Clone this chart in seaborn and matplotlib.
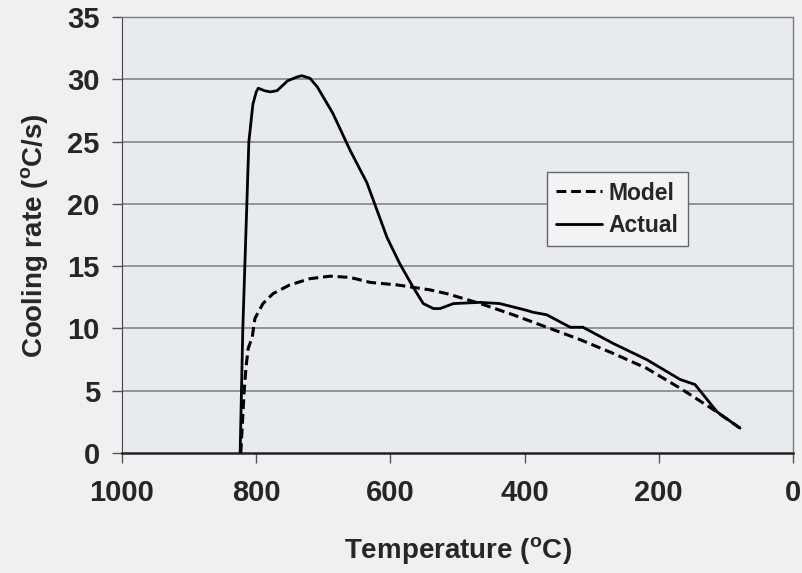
import pandas as pd
import matplotlib
matplotlib.use("Agg")
import matplotlib.pyplot as plt
import seaborn as sns

# Values (temperature in C, cooling rate in C/s)
actual_temp = [824, 822, 820, 817, 814, 811, 805, 800, 797, 788, 779, 769, 753, 739, 732,
               720, 709, 686, 660, 635, 605, 586, 566, 551, 536, 526, 506, 466, 437, 400,
               387, 367, 332, 313, 268, 218, 168, 146, 131, 113, 79]
actual_rate = [0, 5, 10, 15, 20, 25, 28, 29.0, 29.3, 29.1, 29.0, 29.1, 29.9, 30.2, 30.3,
               30.1, 29.4, 27.3, 24.3, 21.7, 17.3, 15.2, 13.3, 12.0, 11.6, 11.6, 12.0, 12.1, 12.0, 11.5,
               11.3, 11.1, 10.1, 10.1, 8.8, 7.5, 5.9, 5.5, 4.5, 3.3, 2.0]

model_temp = [823, 820, 818, 815, 812, 806, 802, 790, 775, 750, 720, 690, 660, 630, 590,
              541, 516, 466, 417, 367, 317, 268, 218, 168, 119, 79]
model_rate = [0, 3, 5, 7, 8.4, 9.3, 10.8, 12.0, 12.8, 13.5, 14.0, 14.2, 14.1, 13.7, 13.5,
              13.1, 12.8, 12.0, 11.1, 10.1, 9.1, 8.0, 6.8, 5.2, 3.5, 2.0]

x_ticks = [1000, 800, 600, 400, 200, 0]
y_ticks = [0, 5, 10, 15, 20, 25, 30, 35]

sns.set_style("white")
plt.rcParams["font.family"] = ["Liberation Sans", "DejaVu Sans"]
plt.rcParams["font.weight"] = "bold"
plt.rcParams["mathtext.fontset"] = "custom"
plt.rcParams["mathtext.rm"] = "Liberation Sans:bold"

df_model = pd.DataFrame({"temp": model_temp, "rate": model_rate})
df_actual = pd.DataFrame({"temp": actual_temp, "rate": actual_rate})

fig = plt.figure(figsize=(8.03, 5.73), dpi=100, facecolor="#eef0f2")
ax = fig.add_axes([0.152, 0.2094, 0.8355, 0.7606])
ax.set_facecolor("#e7eaee")

# grid lines behind the data
for yv in y_ticks[1:]:
    ax.axhline(yv, color="#7d7d7d", lw=1.1, zorder=1)

sns.lineplot(data=df_model, x="temp", y="rate", ax=ax, color="black", lw=2.2,
             sort=False, estimator=None, label="Model", zorder=3)
ax.lines[-1].set_dashes((3.2, 1.6))
sns.lineplot(data=df_actual, x="temp", y="rate", ax=ax, color="black", lw=2.0,
             sort=False, estimator=None, label="Actual", zorder=4)

ax.set_xlim(1000, 0)
ax.set_ylim(0, 35)
ax.set_xticks(x_ticks)
ax.set_yticks(y_ticks)
ax.tick_params(axis="both", labelsize=21, direction="out", length=7, width=1,
               color="#555555")
ax.tick_params(axis="x", pad=12, bottom=True)
ax.tick_params(axis="y", pad=9, left=True)
for lab in ax.get_xticklabels() + ax.get_yticklabels():
    lab.set_fontweight("bold")

ax.set_xlabel(r"Temperature ($^{\rm o}$C)", fontsize=20, fontweight="bold", labelpad=20)
ax.set_ylabel(r"Cooling rate ($^{\rm o}$C/s)", fontsize=20, fontweight="bold", labelpad=12)

for side in ["top", "right"]:
    ax.spines[side].set_color("#7d7d7d")
    ax.spines[side].set_linewidth(1.0)
ax.spines["left"].set_color("#444444")
ax.spines["bottom"].set_color("#222222")
ax.spines["bottom"].set_linewidth(1.8)

leg = ax.legend(loc="upper left", bbox_to_anchor=(0.633, 0.644), borderaxespad=0,
                fontsize=16.5, frameon=True, fancybox=False, handlelength=2.0,
                handletextpad=0.3, borderpad=0.4, labelspacing=0.4)
leg.get_frame().set_edgecolor("#666666")
leg.get_frame().set_facecolor("#f2f3f5")
leg.get_frame().set_alpha(1)
for t in leg.get_texts():
    t.set_fontweight("bold")

fig.savefig("out.png", dpi=100, facecolor=fig.get_facecolor())
